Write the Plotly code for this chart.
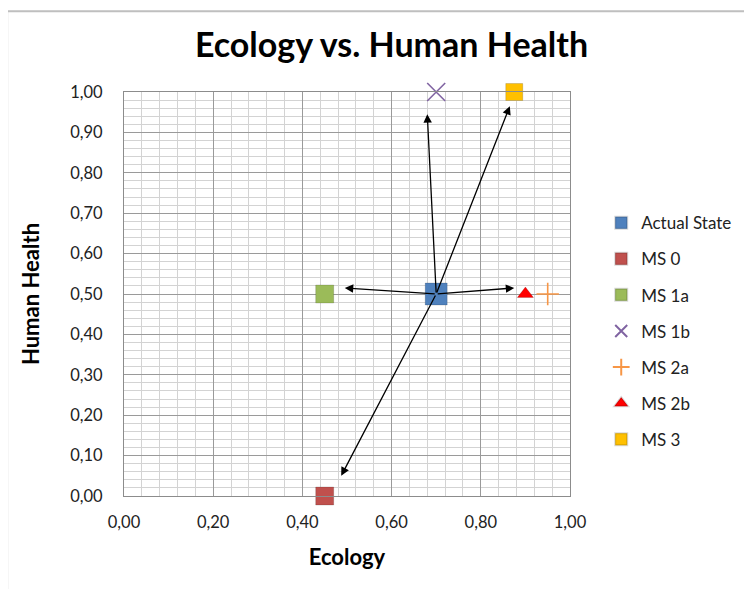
"""
Ecology vs. Human Health scatter with management scenario arrows.
"""

import plotly.graph_objects as go

# scenario points (ecology, human health)
series_names = ["Actual State", "MS 0", "MS 1a", "MS 1b", "MS 2a", "MS 2b", "MS 3"]
ecology = [0.70, 0.45, 0.45, 0.70, 0.95, 0.90, 0.875]
human_health = [0.50, 0.00, 0.50, 1.00, 0.50, 0.50, 1.00]

# marker styling per series
symbols = ["square", "square", "square", "x-thin-open", "cross-thin-open", "triangle-up", "square"]
colors = ["#4F81BD", "#C0504D", "#9BBB59", "#8064A2", "#F79646", "#FF0000", "#FFC000"]
sizes = [22, 18, 18, 18, 16, 14, 17]

# arrows drawn from the actual state towards each scenario (tip positions)
arrow_tip_x = [0.495, 0.875, 0.68, 0.865, 0.487]
arrow_tip_y = [0.515, 0.515, 0.945, 0.965, 0.05]

FONT = "Lato, Liberation Sans, Arial"

fig = go.Figure()

for i, name in enumerate(series_names):
    is_open = symbols[i].endswith("open")
    fig.add_trace(go.Scatter(
        x=[ecology[i]], y=[human_health[i]],
        mode="markers", name=name, legendgroup=name, cliponaxis=False,
        marker=dict(
            symbol=symbols[i], color=colors[i], size=sizes[i],
            line=dict(color=colors[i] if is_open else "rgba(0,0,0,0.15)",
                      width=1.6 if is_open else 1),
        ),
    ))

for tx, ty in zip(arrow_tip_x, arrow_tip_y):
    fig.add_annotation(
        x=tx, y=ty, ax=ecology[0], ay=human_health[0],
        xref="x", yref="y", axref="x", ayref="y",
        text="", showarrow=True, arrowhead=2, arrowsize=1.3,
        arrowwidth=1.3, arrowcolor="black",
    )

# light outer frame of the chart area
fig.add_shape(type="rect", xref="paper", yref="paper",
              x0=-0.262, x1=1.5, y0=-0.3, y1=1.2,
              line=dict(color="#BFBFBF", width=2), layer="below")

axis_common = dict(
    showline=True, linecolor="#8C8C8C", linewidth=1, mirror=True,
    gridcolor="#9A9A9A", gridwidth=1, zeroline=False, ticks="",
    tickfont=dict(family=FONT, size=16.5, color="#222"),
    tickformat=".2f", automargin=False,
)

fig.update_layout(
    width=752, height=589,
    margin=dict(l=116, r=190, t=84, b=101),
    paper_bgcolor="white", plot_bgcolor="white",
    separators=",.",
    title=dict(text="<b>Ecology vs. Human Health</b>", x=0.51, xanchor="center",
               y=0.937, yanchor="middle",
               font=dict(family=FONT, size=34, color="black")),
    xaxis=dict(range=[0, 1], dtick=0.2, tick0=0, ticklabelstandoff=11,
               minor=dict(dtick=0.04, showgrid=True, gridcolor="#D3D3D3", gridwidth=1),
               title=dict(text="<b>Ecology</b>", font=dict(family=FONT, size=22, color="black"),
                          standoff=18),
               **axis_common),
    yaxis=dict(range=[0, 1], dtick=0.1, tick0=0, ticklabelstandoff=17,
               minor=dict(dtick=0.02, showgrid=True, gridcolor="#D3D3D3", gridwidth=1),
               title=dict(text="<b>Human Health</b>", font=dict(family=FONT, size=22, color="black"),
                          standoff=24),
               **axis_common),
    legend=dict(x=1.07, y=0.72, xanchor="left", yanchor="top",
                font=dict(family=FONT, size=17, color="#222"),
                tracegroupgap=11, itemsizing="constant",
                bgcolor="rgba(0,0,0,0)"),
    showlegend=True,
)

fig.write_html("out.html")
